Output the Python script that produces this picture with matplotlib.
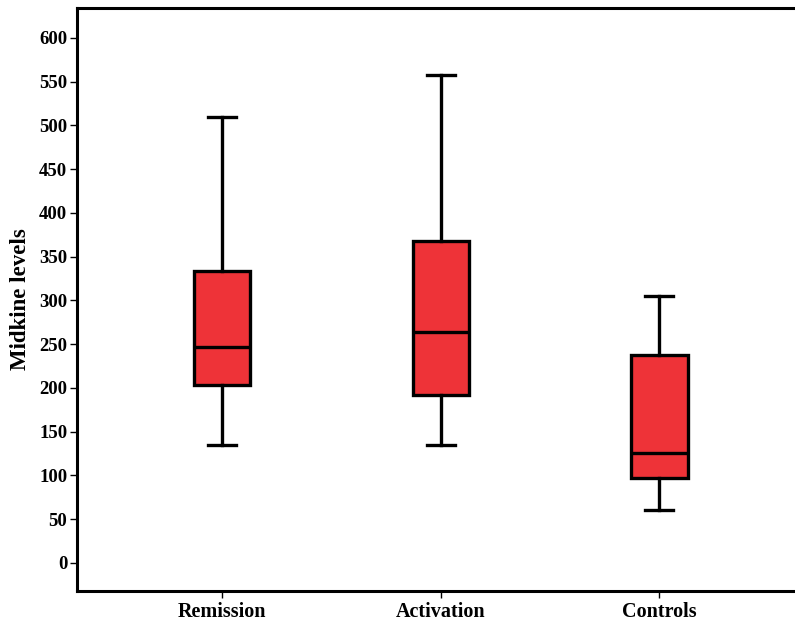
import matplotlib
matplotlib.use("Agg")
import matplotlib.pyplot as plt

# === Dados ===
grupos = ["Remission", "Activation", "Controls"]
whis_baixo = [135, 135, 61]
q1 = [203, 192, 97]
mediana = [247, 264, 126]
q3 = [334, 368, 238]
whis_alto = [510, 558, 305]

stats = []
for i, g in enumerate(grupos):
    stats.append({
        "label": g,
        "whislo": whis_baixo[i],
        "q1": q1[i],
        "med": mediana[i],
        "q3": q3[i],
        "whishi": whis_alto[i],
        "fliers": [],
    })

plt.rcParams["font.family"] = ["Liberation Serif", "DejaVu Serif"]

fig = plt.figure(figsize=(7.95, 6.22), dpi=100)
ax = fig.add_axes([77 / 795, 1 - 591 / 622, 1 - 77 / 795, (591 - 8) / 622])

lw = 2.4
ax.bxp(stats, positions=[1, 2, 3], widths=0.257, patch_artist=True,
       boxprops=dict(facecolor="#ee3338", edgecolor="black", linewidth=lw),
       medianprops=dict(color="black", linewidth=lw),
       whiskerprops=dict(color="black", linewidth=lw),
       capprops=dict(color="black", linewidth=lw),
       capwidths=0.128)

ax.set_xlim(0.335, 3.62)
ax.set_ylim(-32, 634)
ax.set_yticks(range(0, 601, 50))
ax.set_xticks([1, 2, 3])
ax.set_xticklabels(grupos, fontsize=14.5, fontweight="bold")
for t in ax.get_yticklabels():
    t.set_fontsize(13.5)
    t.set_fontweight("bold")
ax.tick_params(axis="y", length=5, width=1, pad=2)
ax.tick_params(axis="x", length=5, width=1, pad=3)
ax.spines["right"].set_visible(False)
for s in ["left", "top", "bottom"]:
    ax.spines[s].set_linewidth(2.2)
ax.set_ylabel("Midkine levels", fontsize=16.5, fontweight="bold", labelpad=6)

plt.savefig("out.png", dpi=100)
